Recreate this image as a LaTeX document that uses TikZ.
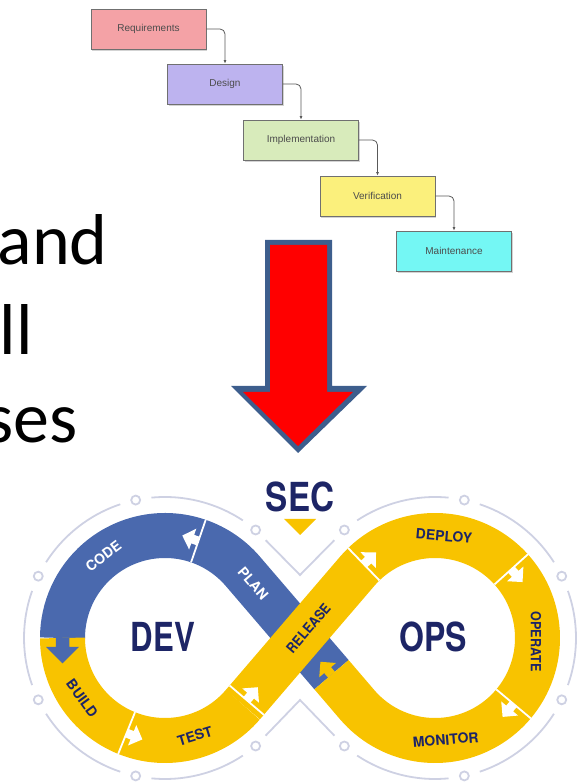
\documentclass[tikz,border=0pt]{standalone}
\usepackage{fontspec}
\setmainfont{Carlito}
\newfontfamily\boxfont{Liberation Sans}
\newfontfamily\loopfont{TeX Gyre Heros}
\usetikzlibrary{arrows.meta,shadows}

\definecolor{reqfill}{HTML}{F4A2A6}
\definecolor{desfill}{HTML}{BDB3EF}
\definecolor{impfill}{HTML}{D8EBBB}
\definecolor{verfill}{HTML}{FBF07C}
\definecolor{mntfill}{HTML}{74F7F4}
\definecolor{boxrim}{HTML}{707070}
\definecolor{bigred}{HTML}{FF0000}
\definecolor{bigrim}{HTML}{3D5E8D}
\definecolor{devblue}{HTML}{4A69AE}
\definecolor{devyellow}{HTML}{F8C300}
\definecolor{navy}{HTML}{1D2566}
\definecolor{guide}{HTML}{CED1E3}

\tikzset{
  phase/.style={draw=boxrim, line width=0.8pt, minimum width=115pt, minimum height=40pt,
    inner sep=0pt, font=\boxfont\fontsize{10}{12}\selectfont, text=black!70,
    drop shadow={shadow xshift=1.2pt, shadow yshift=-1.6pt, opacity=0.35}},
  flowline/.style={draw=black!65, line width=0.8pt, rounded corners=5pt,
    -{Latex[length=3.5pt,width=3pt]}},
  slide/.style={anchor=base east, font=\fontsize{72}{72}\selectfont, inner sep=0pt},
  band/.style={line width=45pt},
  seam/.style={draw=white, line width=1.8pt},
  ring/.style={circle, draw=guide, line width=1.8pt, fill=white, minimum size=9pt, inner sep=0pt},
  guideline/.style={draw=guide, line width=1.8pt, line join=miter},
  stage/.style={font=\loopfont\bfseries\fontsize{14}{14}\selectfont, inner sep=0pt},
  hub/.style={font=\loopfont\bfseries\fontsize{40}{40}\selectfont, text=navy, inner sep=0pt},
  flowmark/.pic={\fill[pic actions] (0,-4.5) -- (6,-4.5) -- (6,-11) -- (17,0) -- (6,11)
    -- (6,4.5) -- (0,4.5) -- cycle;}
}

\begin{document}
\begin{tikzpicture}[x=1pt,y=1pt]
\useasboundingbox (0,0) rectangle (579,783);
\clip (0,0) rectangle (579,783);

% ---------- waterfall phases ----------
\node[phase, fill=reqfill] (req) at (148.5,754) {Requirements};
\node[phase, fill=desfill] (des) at (225,699) {Design};
\node[phase, fill=impfill] (imp) at (301,643) {Implementation};
\node[phase, fill=verfill] (ver) at (377.5,587) {Verification};
\node[phase, fill=mntfill] (mnt) at (454,532) {Maintenance};
\draw[flowline] (req.east) -| (des.north);
\draw[flowline] (des.east) -| (imp.north);
\draw[flowline] (imp.east) -| (ver.north);
\draw[flowline] (ver.east) -| (mnt.north);

% ---------- slide text ----------
\node[slide] (t1) at (108,518) {and};
\node[slide] (t2) at (33,428) {ll};
\node[slide] (t3) at (78,340) {ses};

% ---------- big red arrow ----------
\fill[bigrim] (265,543) -- (332,543) -- (332,397) -- (367,397) -- (298,330)
  -- (231,397) -- (265,397) -- cycle;
\fill[bigred] (270,538) -- (327,538) -- (327,391) -- (353,391) -- (298,337)
  -- (243,391) -- (270,391) -- cycle;

% ---------- DevSecOps loop ----------
\coordinate (C1) at (165,145);
\coordinate (C2) at (435,145);
\coordinate (X) at (300,145);
\coordinate (T1u) at ([shift={(40.6:102.5)}]C1);
\coordinate (T1l) at ([shift={(-40.6:102.5)}]C1);
\coordinate (T2u) at ([shift={(139.4:102.5)}]C2);
\coordinate (T2l) at ([shift={(-139.4:102.5)}]C2);
\coordinate (B0) at (331.5,108.3);
\coordinate (TRp) at ([shift={(49.4:6)}]T1l);
\coordinate (topV) at (300,208);
\coordinate (botV) at (300,83);

% guide rings
\foreach \a in {50,102,154,206,258,310}
  \node[ring] (devdot\a) at ([shift={(\a:141)}]C1) {};
\foreach \a in {130,78,26,-26,-78,-130}
  \node[ring] (opsdot\a) at ([shift={(\a:141)}]C2) {};
\foreach \s/\e in {56.5/95.5,108.5/147.5,160.5/199.5,212.5/251.5,264.5/303.5}
  \draw[guideline] ([shift={(\s:141)}]C1) arc[start angle=\s, end angle=\e, radius=141];
\foreach \s/\e in {123.5/84.5,71.5/32.5,19.5/-19.5,-32.5/-71.5,-84.5/-123.5}
  \draw[guideline] ([shift={(\s:141)}]C2) arc[start angle=\s, end angle=\e, radius=141];
\draw[guideline, shorten <=9pt, shorten >=9pt] (devdot50) -- (topV) -- (opsdot130);
\draw[guideline, shorten <=9pt, shorten >=9pt] (devdot310) -- (botV) -- (opsdot-130);

% bands
\draw[band, devblue] (B0) -- (T1u) arc[start angle=40.6, end angle=71, radius=102.5];
\draw[band, devblue] ([shift={(71:102.5)}]C1) arc[start angle=71, end angle=180, radius=102.5];
\draw[band, devyellow] ([shift={(180:102.5)}]C1) arc[start angle=180, end angle=248, radius=102.5];
\draw[band, devyellow] ([shift={(248:102.5)}]C1) arc[start angle=248, end angle=319.4, radius=102.5];
\draw[band, devyellow] ([shift={(-40:102.5)}]C2) arc[start angle=-40, end angle=-139.4, radius=102.5] -- (B0);
\draw[band, devyellow] ([shift={(42:102.5)}]C2) arc[start angle=42, end angle=-40, radius=102.5];
\draw[band, devyellow] ([shift={(134:102.5)}]C2) arc[start angle=134, end angle=42, radius=102.5];
\draw[band, devyellow] (T1l) -- (T2u) arc[start angle=139.4, end angle=134, radius=102.5];

% stage boundaries
\draw[seam] ([shift={(71:80)}]C1) -- ([shift={(71:125)}]C1);
\draw[seam] ([shift={(248:80)}]C1) -- ([shift={(248:125)}]C1);
\draw[seam] ([shift={(139.4:22.5)}]TRp) -- ([shift={(-40.6:22.5)}]TRp);
\draw[seam] ([shift={(134:80)}]C2) -- ([shift={(134:125)}]C2);
\draw[seam] ([shift={(42:80)}]C2) -- ([shift={(42:125)}]C2);
\draw[seam] ([shift={(-40:80)}]C2) -- ([shift={(-40:125)}]C2);

% flow arrows
\pic[rotate=161, fill=white] at ([shift={(71:102.5)}]C1) {flowmark};
\pic[rotate=270, fill=devblue, scale=1.5] at ([shift={(180:102.5)}]C1) {flowmark};
\pic[rotate=338, fill=white] at ([shift={(248:102.5)}]C1) {flowmark};
\pic[rotate=49.4, fill=white] at (TRp) {flowmark};
\pic[rotate=44, fill=white] at ([shift={(134:102.5)}]C2) {flowmark};
\pic[rotate=-48, fill=white] at ([shift={(42:102.5)}]C2) {flowmark};
\pic[rotate=-130, fill=white] at ([shift={(-40:102.5)}]C2) {flowmark};
\pic[rotate=130.6, fill=devyellow] at (B0) {flowmark};

% stage labels
\node[stage, text=white, rotate=37] (code) at ([shift={(127:102.5)}]C1) {CODE};
\node[stage, text=white, rotate=-49.4] (plan) at ([shift={(130.6:72)}]X) {PLAN};
\node[stage, text=navy, rotate=-54] (build) at ([shift={(216:102.5)}]C1) {BUILD};
\node[stage, text=navy, rotate=17] (test) at ([shift={(287:102.5)}]C1) {TEST};
\node[stage, text=navy, rotate=49.4] (release) at ([shift={(49.4:13)}]X) {\scalebox{0.9}[1]{RELEASE}};
\node[stage, text=navy, rotate=-5] (deploy) at ([shift={(85:102.5)}]C2) {DEPLOY};
\node[stage, text=navy, rotate=-90] (operate) at ([shift={(-2:101)}]C2) {\scalebox{0.9}[1]{OPERATE}};
\node[stage, text=navy, rotate=5] (monitor) at ([shift={(-84:102.5)}]C2) {MONITOR};

% hub labels
\node[hub] (dev) at (163,146) {\scalebox{0.78}[1]{DEV}};
\node[hub] (ops) at (433,146) {\scalebox{0.8}[1]{OPS}};
\node[hub] (sec) at (300,286) {\scalebox{0.83}[1]{SEC}};
\fill[devyellow] (284,264) -- (316,264) -- (300,248) -- cycle;
\end{tikzpicture}
\end{document}
